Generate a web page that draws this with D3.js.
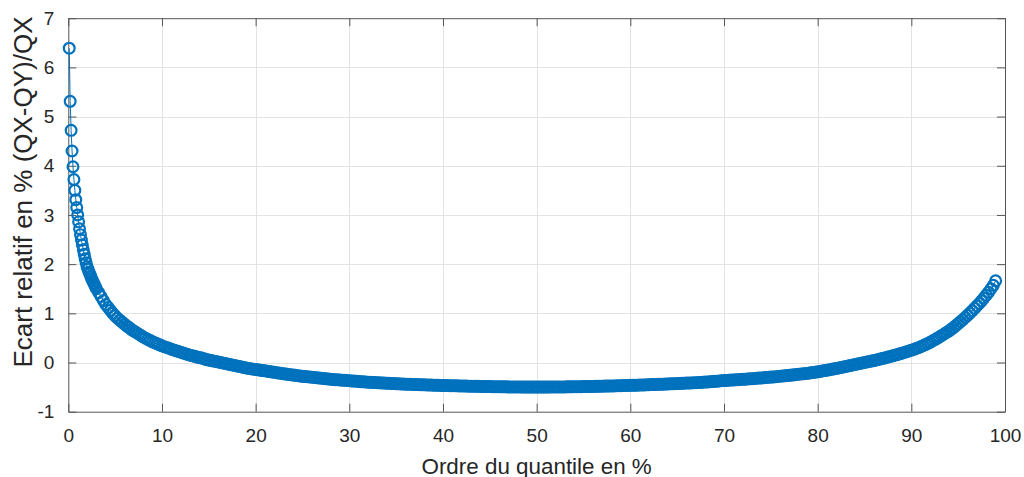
<!DOCTYPE html>
<html lang="fr">
<head>
<meta charset="utf-8">
<script src="https://cdn.jsdelivr.net/npm/d3@7"></script>
<style>
  html, body { margin: 0; padding: 0; background: #ffffff; }
  svg { display: block; font-family: "Liberation Sans", Arial, Helvetica, sans-serif; }
</style>
</head>
<body>
<svg id="chart" width="1024" height="477"></svg>
<script>
// Quantile orders (%) : fine sampling near 0, quarter-percent sampling afterwards
const ordersLow = d3.range(1, 31).map(i => i / 10);      // 0.1 .. 3.0
const ordersHigh = d3.range(13, 397).map(i => i / 4);    // 3.25 .. 99.0

// Relative gap in % (QX-QY)/QX for the orders above
const ecartLow = [
  6.39, 5.31, 4.72, 4.30, 3.98, 3.72, 3.50, 3.31, 3.15, 3.00,
  2.86, 2.72, 2.60, 2.49, 2.39, 2.29, 2.20, 2.11, 2.03, 1.95,
  1.90, 1.84, 1.80, 1.75, 1.70, 1.66, 1.62, 1.58, 1.54, 1.50
];
const ecartHigh = [
  // 3.25 .. 10
  1.42, 1.34, 1.26, 1.18, 1.12, 1.06, 1.00, 0.95, 0.90, 0.86, 0.82, 0.78, 0.74, 0.71,
  0.67, 0.64, 0.61, 0.58, 0.55, 0.52, 0.495, 0.47, 0.445, 0.42, 0.40, 0.38, 0.36, 0.34,
  // 10.25 .. 20
  0.32, 0.305, 0.29, 0.27, 0.255, 0.24, 0.225, 0.21, 0.195, 0.18, 0.165, 0.15,
  0.14, 0.125, 0.11, 0.10, 0.09, 0.075, 0.06, 0.05, 0.04, 0.03, 0.02, 0.01,
  0.00, -0.01, -0.02, -0.03, -0.04, -0.05, -0.06, -0.07, -0.08, -0.09, -0.10, -0.11,
  -0.12, -0.125, -0.135, -0.14,
  // 20.25 .. 30
  -0.148, -0.155, -0.163, -0.17, -0.178, -0.185, -0.193, -0.20, -0.208, -0.215,
  -0.223, -0.23, -0.236, -0.243, -0.249, -0.255, -0.261, -0.268, -0.274, -0.28,
  -0.285, -0.29, -0.295, -0.30, -0.305, -0.31, -0.315, -0.32, -0.325, -0.33,
  -0.335, -0.34, -0.344, -0.348, -0.351, -0.355, -0.359, -0.363, -0.366, -0.37,
  // 30.25 .. 40
  -0.374, -0.378, -0.381, -0.385, -0.389, -0.393, -0.396, -0.40, -0.403, -0.405,
  -0.408, -0.41, -0.413, -0.415, -0.418, -0.42, -0.423, -0.425, -0.428, -0.43,
  -0.433, -0.435, -0.438, -0.44, -0.442, -0.444, -0.445, -0.447, -0.449, -0.451,
  -0.452, -0.454, -0.456, -0.457, -0.459, -0.46, -0.462, -0.463, -0.465, -0.466,
  // 40.25 .. 50
  -0.468, -0.469, -0.471, -0.472, -0.473, -0.474, -0.476, -0.477, -0.478, -0.479,
  -0.481, -0.482, -0.483, -0.484, -0.485, -0.486, -0.487, -0.488, -0.489, -0.49,
  -0.491, -0.491, -0.492, -0.493, -0.494, -0.494, -0.495, -0.496, -0.497, -0.497,
  -0.498, -0.498, -0.498, -0.499, -0.499, -0.499, -0.50, -0.50, -0.50, -0.50,
  // 50.25 .. 60
  -0.50, -0.50, -0.499, -0.499, -0.499, -0.498, -0.498, -0.498, -0.498, -0.497,
  -0.497, -0.496, -0.495, -0.495, -0.494, -0.493, -0.492, -0.492, -0.491, -0.49,
  -0.489, -0.488, -0.487, -0.486, -0.485, -0.484, -0.482, -0.481, -0.48, -0.479,
  -0.477, -0.476, -0.475, -0.473, -0.472, -0.47, -0.469, -0.467, -0.466, -0.464,
  // 60.25 .. 70
  -0.463, -0.461, -0.46, -0.458, -0.456, -0.455, -0.453, -0.451, -0.449, -0.448,
  -0.446, -0.444, -0.442, -0.44, -0.438, -0.436, -0.434, -0.432, -0.43, -0.428,
  -0.426, -0.424, -0.421, -0.419, -0.417, -0.415, -0.412, -0.41, -0.407, -0.404,
  -0.401, -0.398, -0.394, -0.39, -0.387, -0.383, -0.379, -0.375, -0.371, -0.367,
  // 70.25 .. 80
  -0.364, -0.361, -0.358, -0.355, -0.352, -0.349, -0.345, -0.342, -0.339, -0.335,
  -0.332, -0.328, -0.324, -0.32, -0.317, -0.313, -0.309, -0.305, -0.301, -0.297,
  -0.293, -0.288, -0.284, -0.279, -0.274, -0.27, -0.265, -0.26, -0.255, -0.25,
  -0.244, -0.239, -0.233, -0.228, -0.222, -0.216, -0.21, -0.203, -0.197, -0.19,
  // 80.25 .. 90
  -0.181, -0.173, -0.164, -0.155, -0.146, -0.138, -0.129, -0.12, -0.11, -0.10,
  -0.09, -0.08, -0.07, -0.06, -0.05, -0.04, -0.03, -0.02, -0.01, 0.00,
  0.01, 0.02, 0.03, 0.04, 0.051, 0.063, 0.074, 0.085, 0.097, 0.11,
  0.122, 0.135, 0.149, 0.162, 0.176, 0.19, 0.205, 0.22, 0.235, 0.25,
  // 90.25 .. 99
  0.267, 0.285, 0.302, 0.32, 0.342, 0.364, 0.387, 0.41, 0.437, 0.464,
  0.492, 0.52, 0.55, 0.58, 0.61, 0.64, 0.675, 0.71, 0.75, 0.79,
  0.83, 0.87, 0.915, 0.96, 1.005, 1.05, 1.10, 1.15, 1.20, 1.255,
  1.31, 1.37, 1.43, 1.50, 1.57, 1.66
];

const xTicks = [0, 10, 20, 30, 40, 50, 60, 70, 80, 90, 100];
const yTicks = [-1, 0, 1, 2, 3, 4, 5, 6, 7];
const xLabel = "Ordre du quantile en %";
const yLabel = "Ecart relatif en % (QX-QY)/QX";

const points = ordersLow.map((q, i) => ({ q, e: ecartLow[i] }))
  .concat(ordersHigh.map((q, i) => ({ q, e: ecartHigh[i] })));

const svg = d3.select("#chart");
const plotLeft = 68.3, plotRight = 1005, plotTop = 18.2, plotBottom = 411.7;

const x = d3.scaleLinear().domain([0, 100]).range([plotLeft, plotRight]);
const y = d3.scaleLinear().domain([-1, 7]).range([plotBottom, plotTop]);

const axisColor = "#555555";
const textColor = "#262626";
const blue = "#0072BD";

// grid
const grid = svg.append("g").attr("stroke", "#e3e3e3").attr("stroke-width", 1);
grid.selectAll(".gx").data(xTicks.slice(1, -1)).join("line")
  .attr("x1", d => Math.round(x(d)) + 0.5).attr("x2", d => Math.round(x(d)) + 0.5)
  .attr("y1", plotTop).attr("y2", plotBottom);
grid.selectAll(".gy").data(yTicks.slice(1, -1)).join("line")
  .attr("y1", d => Math.round(y(d)) + 0.5).attr("y2", d => Math.round(y(d)) + 0.5)
  .attr("x1", plotLeft).attr("x2", plotRight);

// axes on the four sides, ticks pointing inward
const fmt = d => String(d);
function styleAxis(g) {
  g.select(".domain").attr("stroke", axisColor);
  g.selectAll(".tick line").attr("stroke", axisColor);
  g.selectAll(".tick text").attr("fill", textColor).style("font-size", "19px");
}
svg.append("g").attr("transform", `translate(0,${plotBottom})`)
  .call(d3.axisBottom(x).tickValues(xTicks).tickFormat(fmt).tickSizeInner(-8).tickSizeOuter(0).tickPadding(17))
  .call(styleAxis);
svg.append("g").attr("transform", `translate(0,${plotTop})`)
  .call(d3.axisTop(x).tickValues(xTicks).tickFormat("").tickSizeInner(-8).tickSizeOuter(0))
  .call(styleAxis);
svg.append("g").attr("transform", `translate(${plotLeft},0)`)
  .call(d3.axisLeft(y).tickValues(yTicks).tickFormat(fmt).tickSizeInner(-8).tickSizeOuter(0).tickPadding(14))
  .call(styleAxis);
svg.append("g").attr("transform", `translate(${plotRight},0)`)
  .call(d3.axisRight(y).tickValues(yTicks).tickFormat("").tickSizeInner(-8).tickSizeOuter(0))
  .call(styleAxis);

// series: thin connecting line with open circle markers
const line = d3.line().x(d => x(d.q)).y(d => y(d.e));
svg.append("path").datum(points)
  .attr("d", line).attr("fill", "none").attr("stroke", blue).attr("stroke-width", 1);
svg.append("g").selectAll("circle").data(points).join("circle")
  .attr("cx", d => x(d.q)).attr("cy", d => y(d.e)).attr("r", 5.4)
  .attr("fill", "none").attr("stroke", blue).attr("stroke-width", 2.2);

// axis titles
svg.append("text").attr("x", (plotLeft + plotRight) / 2).attr("y", 473.5)
  .attr("text-anchor", "middle").attr("fill", textColor).style("font-size", "22.4px")
  .text(xLabel);
svg.append("text").attr("transform", "translate(31.7,192) rotate(-90)")
  .attr("text-anchor", "middle").attr("fill", textColor).style("font-size", "26px")
  .text(yLabel);
</script>
</body>
</html>
